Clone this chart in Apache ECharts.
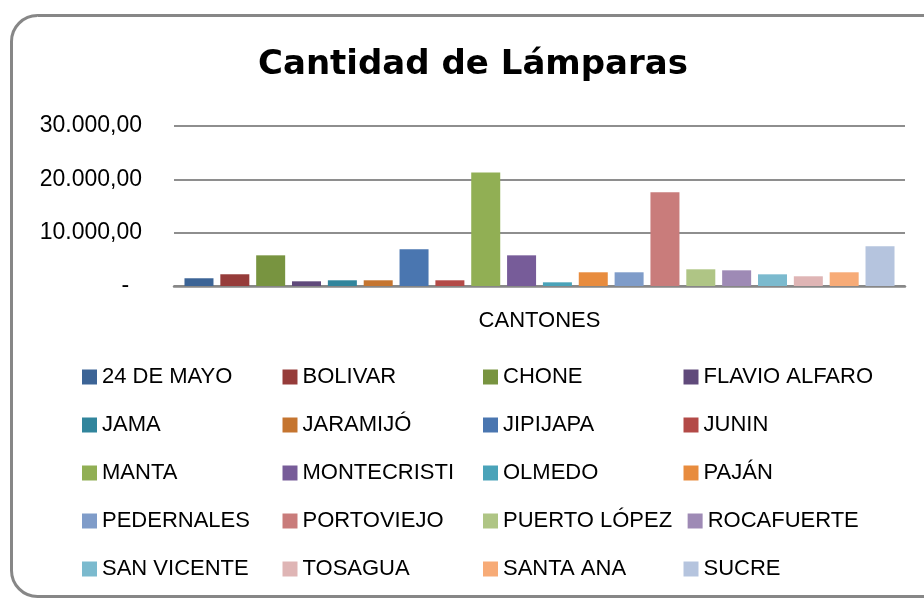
<!DOCTYPE html>
<html>
<head>
<meta charset="utf-8">
<title>Cantidad de Lámparas</title>
<script src="https://cdn.jsdelivr.net/npm/echarts@6/dist/echarts.min.js"></script>
<style>
    html, body { margin: 0; padding: 0; background: #fff; }
    #chart { width: 924px; height: 598px; }
</style>
</head>
<body>
<div id="chart"></div>
<script>
// datos
var categorias = ['CANTONES'];
var cantones = ['24 DE MAYO', 'BOLIVAR', 'CHONE', 'FLAVIO ALFARO', 'JAMA', 'JARAMIJÓ', 'JIPIJAPA', 'JUNIN',
    'MANTA', 'MONTECRISTI', 'OLMEDO', 'PAJÁN', 'PEDERNALES', 'PORTOVIEJO', 'PUERTO LÓPEZ', 'ROCAFUERTE',
    'SAN VICENTE', 'TOSAGUA', 'SANTA ANA', 'SUCRE'];
var lamparas = [1450, 2200, 5750, 880, 1070, 1070, 6880, 1070,
    21300, 5750, 690, 2570, 2570, 17560, 3130, 2940,
    2190, 1820, 2570, 7440];
var colores = ['#3c6496', '#963c3a', '#789440', '#604a7b', '#31859c', '#c57530', '#4a76b0', '#b34a47',
    '#91af54', '#775c99', '#4aa3b9', '#e88c3e', '#7f9cc9', '#c97c7b', '#afc585', '#9e8ab5',
    '#7bbace', '#dfb5b5', '#f7ab77', '#b5c4de'];
var ticksY = [0, 10000, 20000, 30000];

var fuente = '"Liberation Sans", Arial, sans-serif';

// formato 30.000,00
function formatoNumero(v) {
    if (v === 0) return '-  ';
    var partes = v.toFixed(2).split('.');
    var entero = partes[0].replace(/\B(?=(\d{3})+(?!\d))/g, '.');
    return entero + ',' + partes[1];
}

var myChart = echarts.init(document.getElementById('chart'));

var series = [];
for (var i = 0; i < cantones.length; i++) {
    series.push({
        name: cantones[i],
        type: 'bar',
        barWidth: 29,
        barGap: '23.6%',
        itemStyle: { color: colores[i] },
        data: [lamparas[i]]
    });
}

// leyenda en 5 filas de 4 columnas
var leyendas = [];
for (var f = 0; f < 5; f++) {
    leyendas.push({
        data: cantones.slice(f * 4, f * 4 + 4),
        left: 82,
        top: 366 + f * 48,
        padding: 0,
        orient: 'horizontal',
        icon: 'rect',
        itemWidth: 15,
        itemHeight: 15,
        itemGap: 15.5,
        selectedMode: false,
        textStyle: {
            fontFamily: fuente,
            fontSize: 22,
            color: '#000',
            width: 165,
            lineHeight: 22,
            overflow: 'none'
        }
    });
}

var option = {
    animation: false,
    backgroundColor: '#fff',
    title: {
        text: 'Cantidad de Lámparas',
        left: 473,
        textAlign: 'center',
        top: 48,
        padding: 0,
        textStyle: {
            fontFamily: '"DejaVu Sans", sans-serif',
            fontSize: 34,
            fontWeight: 'bold',
            color: '#000'
        }
    },
    graphic: [{
        type: 'rect',
        shape: { x: 11.5, y: 15.5, width: 940, height: 581, r: 26 },
        style: { fill: 'none', stroke: '#878787', lineWidth: 3 },
        z: 100
    }],
    legend: leyendas,
    grid: {
        left: 174,
        right: 19,
        top: 126,
        bottom: 312
    },
    xAxis: {
        type: 'category',
        data: categorias,
        axisLine: { lineStyle: { color: '#878787', width: 2.5 } },
        axisTick: { show: false },
        axisLabel: {
            margin: 24,
            fontFamily: fuente,
            fontSize: 22,
            color: '#000'
        }
    },
    yAxis: {
        type: 'value',
        min: ticksY[0],
        max: ticksY[ticksY.length - 1],
        interval: 10000,
        axisLine: { show: false },
        axisTick: { show: false },
        splitLine: { lineStyle: { color: '#8e8e8e', width: 2 } },
        axisLabel: {
            margin: 32,
            fontFamily: fuente,
            fontSize: 23,
            color: '#000',
            formatter: formatoNumero
        }
    },
    series: series
};

myChart.setOption(option);
</script>
</body>
</html>
